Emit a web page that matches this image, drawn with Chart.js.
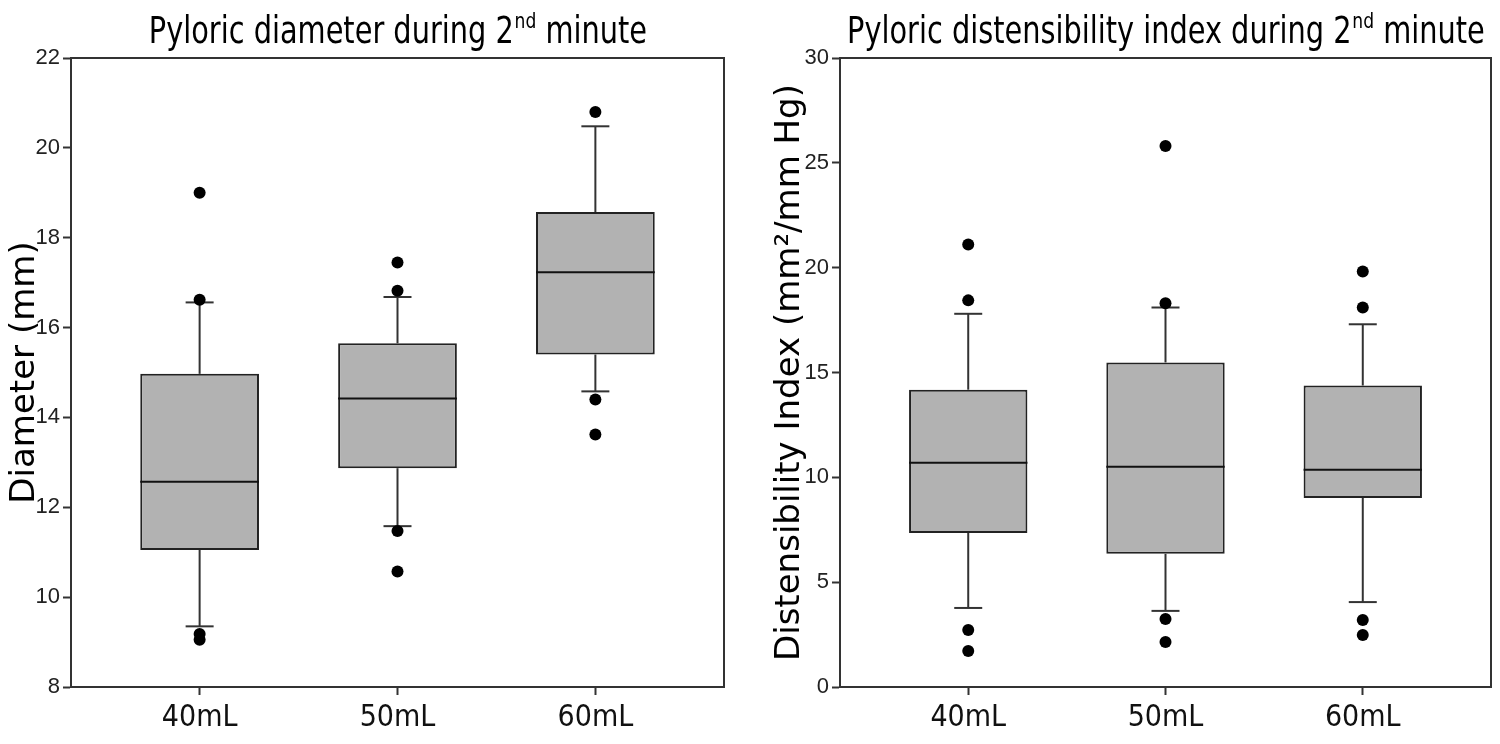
<!DOCTYPE html>
<html><head><meta charset="utf-8">
<script src="https://cdn.jsdelivr.net/npm/chart.js@4.4.0/dist/chart.umd.min.js"></script>
<style>
html,body{margin:0;padding:0;background:#fff;}
#wrap{display:flex;width:1500px;height:744px;}
.c{position:relative;width:750px;height:744px;}
canvas{display:block;}
</style></head><body>
<div id="wrap"><div class="c"><canvas id="c1" width="750" height="744"></canvas></div><div class="c"><canvas id="c2" width="750" height="744"></canvas></div></div>
<script>
// ---------- data ----------
const categories = ['40mL', '50mL', '60mL'];

const diamTitle = ['Pyloric diameter during 2', 'nd', ' minute'];
const diamAxisTitle = 'Diameter (mm)';
const diamTicks = [8, 10, 12, 14, 16, 18, 20, 22];
const diamLowWhisker = [9.35, 11.58, 14.58];
const diamQ1 = [11.05, 12.87, 15.40];
const diamMedian = [12.57, 14.42, 17.23];
const diamQ3 = [14.97, 15.65, 18.57];
const diamHighWhisker = [16.56, 16.68, 20.48];
const diamOutliers = [[19.0, 16.62, 9.18, 9.05], [17.45, 16.82, 11.47, 10.57], [20.8, 14.4, 13.62]];

const distTitle = ['Pyloric distensibility index during 2', 'nd', ' minute'];
const distAxisTitle = 'Distensibility Index (mm\u00B2/mm Hg)';
const distTicks = [0, 5, 10, 15, 20, 25, 30];
const distLowWhisker = [3.77, 3.63, 4.05];
const distQ1 = [7.35, 6.35, 9.02];
const distMedian = [10.70, 10.50, 10.36];
const distQ3 = [14.18, 15.48, 14.38];
const distHighWhisker = [17.80, 18.10, 17.30];
const distOutliers = [[21.1, 18.44, 2.72, 1.72], [25.8, 18.3, 3.24, 2.15], [19.82, 18.1, 3.2, 2.48]];

// ---------- plugin ----------
const boxExtras = {
  id: 'boxExtras',
  beforeDatasetsDraw(chart, args, o) {
    const {ctx, scales: {x, y}} = chart;
    ctx.save();
    ctx.strokeStyle = '#333';
    ctx.lineWidth = 2;
    o.q1.forEach((q1, i) => {
      const cx = x.getPixelForValue(i + 1);
      const capHalf = 14;
      const segs = [[o.q3[i], o.hi[i]], [q1, o.lo[i]]];
      segs.forEach(([from, to]) => {
        const y1 = y.getPixelForValue(from), y2 = y.getPixelForValue(to);
        ctx.beginPath(); ctx.moveTo(cx, y1); ctx.lineTo(cx, y2); ctx.stroke();
        ctx.beginPath(); ctx.moveTo(cx - capHalf, y2); ctx.lineTo(cx + capHalf, y2); ctx.stroke();
      });
    });
    ctx.restore();
  },
  afterDatasetDraw(chart, args, o) {
    if (args.index !== 1) return;
    const {ctx, scales: {y}} = chart;
    const meta = chart.getDatasetMeta(1);
    ctx.save();
    ctx.strokeStyle = '#111';
    ctx.lineWidth = 2;
    o.med.forEach((m, i) => {
      const bar = meta.data[i];
      const py = y.getPixelForValue(m);
      ctx.beginPath(); ctx.moveTo(bar.x - bar.width / 2, py); ctx.lineTo(bar.x + bar.width / 2, py); ctx.stroke();
    });
    ctx.restore();
  },
  afterDraw(chart, args, o) {
    const {ctx, chartArea: a} = chart;
    ctx.save();
    ctx.strokeStyle = '#333';
    ctx.lineWidth = 2;
    ctx.strokeRect(a.left, a.top, a.right - a.left, a.bottom - a.top);
    // title with superscript
    const [t1, sup, t2] = o.title;
    const fam = '"DejaVu Sans Condensed", "Liberation Sans Narrow", sans-serif';
    const big = '37px ' + fam;
    const small = '22px ' + fam;
    const hs = 0.865;
    ctx.fillStyle = '#000';
    ctx.textBaseline = 'alphabetic';
    ctx.textAlign = 'left';
    ctx.font = big; const w1 = ctx.measureText(t1).width, w3 = ctx.measureText(t2).width;
    ctx.font = small; const w2 = ctx.measureText(sup).width;
    const total = (w1 + w2 + w3) * hs;
    const cx = (a.left + a.right) / 2;
    ctx.translate(cx - total / 2, 0);
    ctx.scale(hs, 1);
    let sx = 0;
    const base = 43;
    ctx.font = big; ctx.fillText(t1, sx, base); sx += w1;
    ctx.font = small; ctx.fillText(sup, sx + 1, base - 15); sx += w2 + 1;
    ctx.font = big; ctx.fillText(t2, sx, base);
    ctx.restore();
  }
};

function makeChart(id, cfg) {
  const stats = {lo: cfg.lo, q1: cfg.q1, med: cfg.med, q3: cfg.q3, hi: cfg.hi, title: cfg.title};
  const outlierPts = [];
  cfg.out.forEach((arr, i) => arr.forEach(v => outlierPts.push({x: i + 1, y: v})));
  return new Chart(document.getElementById(id), {
    type: 'bar',
    data: {
      datasets: [
        {type: 'scatter', data: outlierPts, backgroundColor: '#000', borderColor: '#000',
         pointRadius: 6, pointBorderWidth: 0, order: 0},
        {type: 'bar', data: categories.map((c, i) => ({x: i + 1, y: [cfg.q1[i], cfg.q3[i]]})),
         backgroundColor: '#b2b2b2', borderColor: '#222', borderWidth: 2, borderSkipped: false,
         barPercentage: 0.6, categoryPercentage: 1, order: 1}
      ]
    },
    options: {
      responsive: false, animation: false, devicePixelRatio: 1,
      layout: {padding: {top: 58, right: cfg.padRight, left: 0, bottom: 0}},
      plugins: {legend: {display: false}, tooltip: {enabled: false}, boxExtras: stats},
      scales: {
        x: {
          type: 'linear', min: 0.35, max: 3.65, offset: false,
          afterBuildTicks: s => { s.ticks = categories.map((c, i) => ({value: i + 1})); },
          afterFit: s => { s.height = 57; },
          grid: {offset: false, drawOnChartArea: false, drawTicks: true, tickLength: 8, tickColor: '#333', tickWidth: 2},
          border: {display: true, color: '#333', width: 2},
          ticks: {callback: v => categories[v - 1], color: '#111', padding: 5,
                  font: {family: '"DejaVu Sans Condensed", "Liberation Sans Narrow", sans-serif', size: 30}}
        },
        y: {
          min: cfg.ticks[0], max: cfg.ticks[cfg.ticks.length - 1],
          afterBuildTicks: s => { s.ticks = cfg.ticks.map(v => ({value: v})); },
          afterFit: s => { s.width = cfg.yWidth; },
          grid: {drawOnChartArea: false, drawTicks: true, tickLength: 8, tickColor: '#333', tickWidth: 2},
          border: {display: true, color: '#333', width: 2},
          ticks: {color: '#222', padding: 3, font: {family: '"Liberation Sans Narrow", "Liberation Sans", Arial, sans-serif', size: 22}},
          title: {display: true, text: cfg.axisTitle, color: '#000',
                  font: {family: '"DejaVu Sans", Verdana, sans-serif', size: 34},
                  padding: {top: cfg.titlePad, bottom: 0}}
        }
      }
    },
    plugins: [boxExtras]
  });
}

makeChart('c1', {lo: diamLowWhisker, q1: diamQ1, med: diamMedian, q3: diamQ3, hi: diamHighWhisker,
  out: diamOutliers, ticks: diamTicks, title: diamTitle, axisTitle: diamAxisTitle,
  yWidth: 71, padRight: 26, titlePad: 5});
makeChart('c2', {lo: distLowWhisker, q1: distQ1, med: distMedian, q3: distQ3, hi: distHighWhisker,
  out: distOutliers, ticks: distTicks, title: distTitle, axisTitle: distAxisTitle,
  yWidth: 90, padRight: 9, titlePad: 20});
</script>
</body></html>
